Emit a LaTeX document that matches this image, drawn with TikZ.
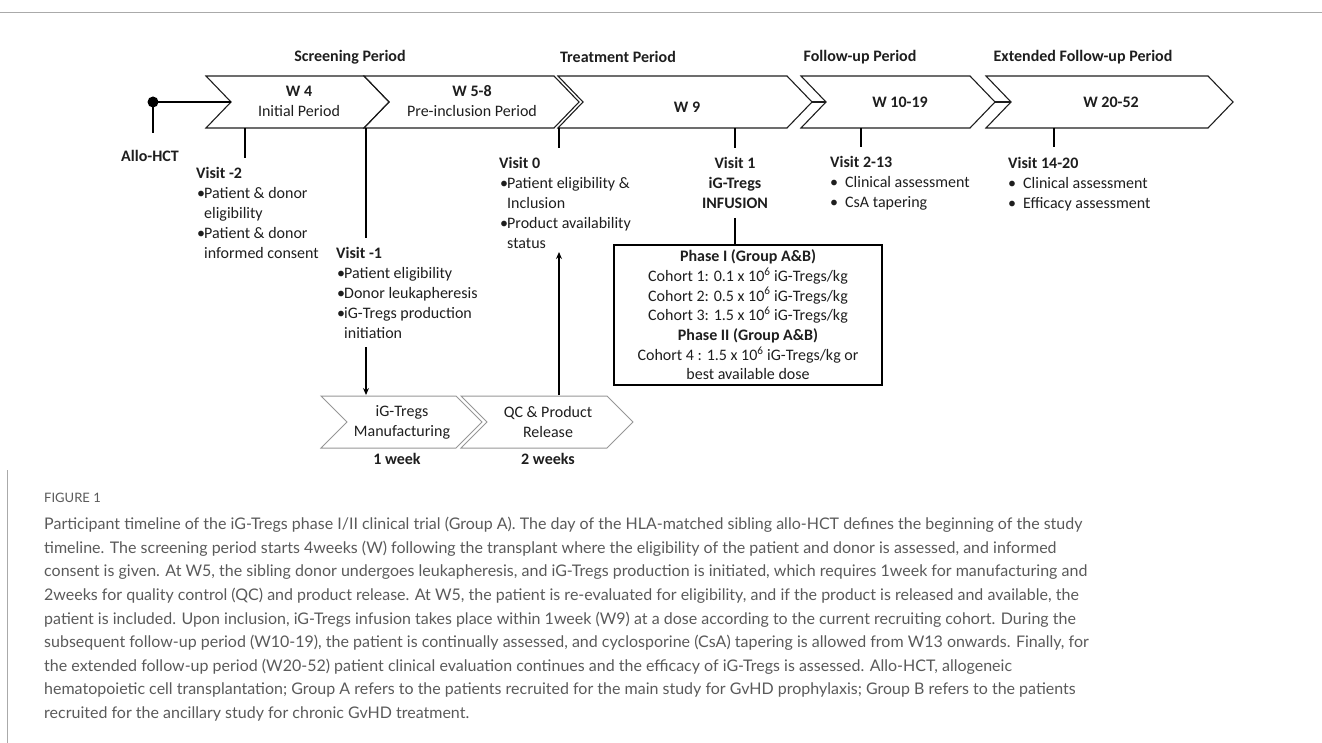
\documentclass[tikz,border=0pt]{standalone}
\usepackage{fontspec}
\setmainfont{Carlito}
\newfontfamily\capfont{Lato}
\usetikzlibrary{arrows.meta}
\definecolor{ink}{RGB}{30,30,30}
\definecolor{chevgray}{RGB}{150,150,150}
\definecolor{capgray}{RGB}{90,90,90}
\definecolor{framegray}{RGB}{170,170,170}
\newcommand{\bul}{\makebox[8pt][l]{\hspace{1pt}\textbullet}}
\newcommand{\nob}{\hspace*{8pt}}
\begin{document}
\begin{tikzpicture}[x=1pt,y=-1pt,
  txt/.style={inner sep=0pt, align=left, text=ink, font=\fontsize{16}{20}\selectfont},
  hdr/.style={inner sep=0pt, text=ink, font=\fontsize{16}{20}\selectfont\bfseries},
  chev/.style={draw=ink, line width=1.1pt, line join=miter},
  chevlight/.style={draw=chevgray, line width=1pt},
  vline/.style={draw=black, line width=1.5pt},
  arr/.style={draw=black, line width=1.3pt, -{Stealth[length=7pt,width=6pt]}},
]
\useasboundingbox (0,0) rectangle (1322,743);
% frame
\draw[framegray, line width=1pt] (0,13) -- (1322,13);
\draw[framegray, line width=1pt] (7,470) -- (7,743);

% headers
\node[hdr] (hscr) at (350,57) {Screening Period};
\node[hdr] (htrt) at (618,57) {Treatment Period};
\node[hdr] (hfol) at (860,57) {Follow-up Period};
\node[hdr] (hext) at (1083,57) {Extended Follow-up Period};

% top chevrons
\draw[chev] (206,76)--(364,76)--(389,102)--(364,128)--(206,128)--(231,102)--cycle;
\draw[chev] (364,76)--(554,76)--(579,102)--(554,128)--(364,128)--(389,102)--cycle;
\draw[chev] (558,76)--(787,76)--(812,102)--(787,128)--(558,128)--(583,102)--cycle;
\draw[chev] (801,76)--(970,76)--(995,102)--(970,128)--(801,128)--(826,102)--cycle;
\draw[chev] (986,76)--(1208,76)--(1233,102)--(1208,128)--(986,128)--(1011,102)--cycle;
\coordinate (t3) at (812,102); \coordinate (n4) at (826,102);
\coordinate (t4) at (995,102); \coordinate (n5) at (1011,102);
\draw[chev] (t3) -- (n4);
\draw[chev] (t4) -- (n5);

% chevron texts
\node[txt, align=center] (c1) at (299,101) {\textbf{W 4}\\Initial Period};
\node[txt, align=center] (c2) at (472,101) {\textbf{W 5-8}\\Pre-inclusion Period};
\node[hdr] (c3) at (687,107) {W 9};
\node[hdr] (c4) at (900,102) {W 10-19};
\node[hdr] (c5) at (1111,102) {W 20-52};

% allo-HCT
\coordinate (dot) at (153,102);
\coordinate (n1) at (231,102);
\coordinate (dotb) at (153,133);
\fill[black] (dot) circle (5.5);
\draw[vline] (dot) -- (n1);
\draw[vline] (dot) -- (dotb);
\node[hdr] (allo) at (150,156) {Allo-HCT};

% visit -2
\coordinate (v2a) at (245,128); \coordinate (v2b) at (245,158);
\draw[vline] (v2a) -- (v2b);
\node[txt, anchor=north west] (vm2) at (196,167.5) {\textbf{Visit -2}\\
\bul Patient \& donor\\ \nob eligibility\\ \bul Patient \& donor\\ \nob informed consent};

% visit -1
\coordinate (v1a) at (366,128); \coordinate (v1b) at (366,238);
\draw[vline] (v1a) -- (v1b);
\node[txt, anchor=north west] (vm1) at (336,247.5) {\textbf{Visit -1}\\
\bul Patient eligibility\\ \bul Donor leukapheresis\\ \bul iG-Tregs production\\ \nob initiation};

% visit 0
\coordinate (v0a) at (559,128); \coordinate (v0b) at (559,148);
\draw[vline] (v0a) -- (v0b);
\node[txt, anchor=north west] (v0) at (499,157.5) {\textbf{Visit 0}\\
\bul Patient eligibility \&\\ \nob Inclusion\\ \bul Product availability\\ \nob status};

% visit 1
\coordinate (va1) at (735,128); \coordinate (vb1) at (735,148);
\draw[vline] (va1) -- (vb1);
\node[txt, align=center, anchor=north, font=\fontsize{16}{20}\selectfont\bfseries] (v1) at (735,157.5) {Visit 1\\iG-Tregs\\INFUSION};
\coordinate (vc1) at (735,218);
\node[draw=black, line width=1.8pt, minimum width=268pt, minimum height=140pt, inner sep=0pt,
  align=center, text=ink, font=\fontsize{16}{19.7}\selectfont] (box) at (748,315)
  {\textbf{Phase I (Group A\&B)}\\
   Cohort 1: 0.1 x 10\textsuperscript{6} iG-Tregs/kg\\
   Cohort 2: 0.5 x 10\textsuperscript{6} iG-Tregs/kg\\
   Cohort 3: 1.5 x 10\textsuperscript{6} iG-Tregs/kg\\
   \textbf{Phase II (Group A\&B)}\\
   Cohort 4 : 1.5 x 10\textsuperscript{6} iG-Tregs/kg or\\
   best available dose};
\draw[vline] (vc1) -- (vc1 |- box.north);

% visit 2-13
\coordinate (v213a) at (861,128); \coordinate (v213b) at (861,147);
\draw[vline] (v213a) -- (v213b);
\node[txt, anchor=north west] (v213) at (830,156.5) {\textbf{Visit 2-13}\\
\makebox[15pt][l]{\textbullet}Clinical assessment\\ \makebox[15pt][l]{\textbullet}CsA tapering};

% visit 14-20
\coordinate (v1420a) at (1054,128); \coordinate (v1420b) at (1054,147);
\draw[vline] (v1420a) -- (v1420b);
\node[txt, anchor=north west] (v1420) at (1008,157.5) {\textbf{Visit 14-20}\\
\makebox[15pt][l]{\textbullet}Clinical assessment\\ \makebox[15pt][l]{\textbullet}Efficacy assessment};

% bottom chevrons
\draw[chevlight] (321,396)--(456,396)--(482,422)--(456,448)--(321,448)--(347,422)--cycle;
\draw[chevlight] (461,396)--(607,396)--(633,422)--(607,448)--(461,448)--(487,422)--cycle;
\node[txt, align=center] (man) at (402,422) {iG-Tregs\\Manufacturing};
\node[txt, align=center] (qc) at (548,422) {QC \& Product\\Release};
\node[hdr] (w1) at (397,459) {1 week};
\node[hdr] (w2) at (548,459) {2 weeks};
\coordinate (a1s) at (366,347); \coordinate (a1e) at (366,395);
\coordinate (a2s) at (559,395); \coordinate (a2e) at (559,252);
\draw[arr] (a1s) -- (a1e);
\draw[arr] (a2s) -- (a2e);

% caption
\node[inner sep=0pt, anchor=west, text=capgray, font=\capfont\fontsize{13}{16}\selectfont] (fig) at (44,498) {FIGURE 1};
\node[inner sep=0pt, anchor=north west, align=left, text=capgray, font=\capfont\fontsize{16}{23.6}\selectfont] (cap) at (44,517)
{Participant timeline of the iG-Tregs phase I/II clinical trial (Group A). The day of the HLA-matched sibling allo-HCT defines the beginning of the study\\
timeline. The screening period starts 4weeks (W) following the transplant where the eligibility of the patient and donor is assessed, and informed\\
consent is given. At W5, the sibling donor undergoes leukapheresis, and iG-Tregs production is initiated, which requires 1week for manufacturing and\\
2weeks for quality control (QC) and product release. At W5, the patient is re-evaluated for eligibility, and if the product is released and available, the\\
patient is included. Upon inclusion, iG-Tregs infusion takes place within 1week (W9) at a dose according to the current recruiting cohort. During the\\
subsequent follow-up period (W10-19), the patient is continually assessed, and cyclosporine (CsA) tapering is allowed from W13 onwards. Finally, for\\
the extended follow-up period (W20-52) patient clinical evaluation continues and the efficacy of iG-Tregs is assessed. Allo-HCT, allogeneic\\
hematopoietic cell transplantation; Group A refers to the patients recruited for the main study for GvHD prophylaxis; Group B refers to the patients\\
recruited for the ancillary study for chronic GvHD treatment.};
\end{tikzpicture}
\end{document}
